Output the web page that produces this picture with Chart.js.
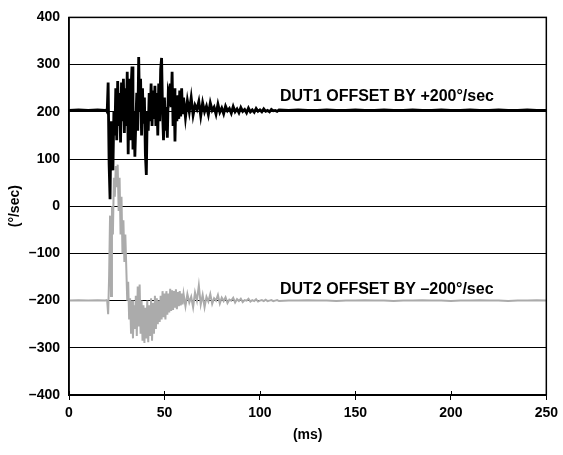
<!DOCTYPE html>
<html>
<head>
<meta charset="utf-8">
<script src="https://cdn.jsdelivr.net/npm/chart.js@4"></script>
<style>
  html, body { margin: 0; padding: 0; background: #ffffff; }
  canvas { display: block; }
</style>
</head>
<body>
<canvas id="c" width="563" height="455"></canvas>
<script>
// ---- data ----
const timeMs = [
  0, 5, 10, 15, 19, 19.5,
  20, 20.5, 21, 21.5, 22, 22.5, 23, 23.5, 24, 24.5,
  25, 25.5, 26, 26.5, 27, 27.5, 28, 28.5, 29, 29.5,
  30, 30.5, 31, 31.5, 32, 32.5, 33, 33.5, 34, 34.5,
  35, 35.5, 36, 36.5, 37, 37.5, 38, 38.5, 39, 39.5,
  40, 40.5, 41, 41.5, 42, 42.5, 43, 43.5, 44, 44.5,
  45, 45.5, 46, 46.5, 47, 47.5, 48, 48.5, 49, 49.5,
  50, 50.5, 51, 51.5, 52, 52.5, 53, 53.5, 54, 54.5,
  55, 55.5, 56, 56.5, 57, 57.5, 58, 58.5, 59, 59.5,
  60,
  61, 62, 63, 64, 65, 66, 67, 68, 69, 70,
  71, 72, 73, 74, 75, 76, 77, 78, 79, 80,
  81, 82, 83, 84, 85, 86, 87, 88, 89, 90,
  91, 92, 93, 94, 95, 96, 97, 98, 99, 100,
  101, 102, 103, 104, 105, 106, 107, 108, 109, 110,
  115, 120, 125, 130, 135, 140, 145, 150, 155, 160,
  165, 170, 175, 180, 185, 190, 195, 200, 205, 210,
  215, 220, 225, 230, 235, 240, 245, 250
];

const dut1 = [
  203, 204, 203, 204, 203, 204,
  200, 262, 90, 15, 180, 120, 76, 200, 150, 250,
  140, 265, 170, 240, 135, 262, 180, 270, 155, 250,
  170, 285, 110, 270, 140, 250, 296, 120, 200, 105,
  180, 240, 160, 316, 200, 270, 150, 250, 175, 230,
  110, 66, 200, 160, 240, 180, 260, 170, 245, 185,
  255, 170, 240, 150, 260, 180, 290, 314, 200, 140,
  230, 160, 210, 145, 240, 230, 260, 210, 285, 170,
  250, 137, 230, 180, 235, 185, 245, 190, 250, 195,
  230,
  188, 224, 200, 230, 193, 214, 205, 222, 191, 219,
  200, 212, 194, 219, 203, 210, 195, 216, 199, 208,
  196, 212, 202, 207, 197, 211, 200, 206, 198, 209,
  201, 205, 198, 208, 200, 204, 199, 207, 201, 204,
  200, 206, 201, 203, 200, 205, 202, 203, 201, 204,
  203, 204, 203, 203, 204, 203, 203, 204, 203, 203,
  204, 203, 203, 204, 203, 203, 204, 203, 203, 204,
  203, 203, 204, 203, 203, 204, 203, 203
];

const dut2 = [
  -200, -199, -200, -199, -200, -199,
  -200, -229, -150, -20, -190, 0, -60, 60, 20, 85,
  40, 88, -10, 60, -60, 20, -100, -30, -118, -60,
  -130, -200, -160, -240, -195, -270, -200, -280, -210, -260,
  -190, -275, -170, -255, -166, -270, -200, -285, -210, -290,
  -215, -280, -200, -288, -210, -275, -195, -285, -205, -270,
  -190, -260, -195, -250, -200, -245, -190, -240, -180, -235,
  -185, -240, -180, -230, -185, -225, -175, -222, -178, -220,
  -180, -215, -176, -218, -182, -212, -180, -210, -185, -208,
  -186,
  -212, -186, -204, -192, -214, -183, -200, -168, -208, -188,
  -214, -192, -202, -186, -207, -195, -200, -188, -206, -194,
  -201, -193, -205, -198, -200, -194, -204, -197, -201, -196,
  -203, -199, -200, -196, -202, -199, -201, -197, -202, -200,
  -199, -201, -198, -201, -200, -199, -201, -200, -199, -201,
  -200, -200, -199, -200, -200, -201, -200, -200, -199, -200,
  -200, -201, -200, -200, -199, -200, -200, -201, -200, -200,
  -199, -200, -200, -201, -200, -200, -199, -200
];

const xTicks = [0, 50, 100, 150, 200, 250];
const yTicks = [-400, -300, -200, -100, 0, 100, 200, 300, 400];
const annotations = [
  { text: 'DUT1 OFFSET BY +200\u00B0/sec', x: 110.5, y: 233 },
  { text: 'DUT2 OFFSET BY \u2013200\u00B0/sec', x: 110.5, y: -177 }
];

// ---- chart ----
const FONT = '"Liberation Sans", Arial, Helvetica, sans-serif';
const toPoints = (vals) => timeMs.map((t, i) => ({ x: t, y: vals[i] }));
const dash = (v) => String(v).replace('-', '\u2013');

const framePlugin = {
  id: 'frame',
  afterDatasetsDraw(chart) {
    const { ctx, chartArea: a, scales } = chart;
    ctx.save();
    ctx.strokeStyle = '#000';
    ctx.lineWidth = 1.5;
    ctx.strokeRect(a.left, a.top, a.right - a.left, a.bottom - a.top);
    ctx.lineWidth = 1;
    xTicks.forEach(v => {
      const px = Math.round(scales.x.getPixelForValue(v)) + 0.5;
      ctx.beginPath();
      ctx.moveTo(px, a.bottom - 4);
      ctx.lineTo(px, a.bottom);
      ctx.stroke();
    });
    ctx.fillStyle = '#000';
    ctx.font = 'bold 16px ' + FONT;
    ctx.textAlign = 'left';
    ctx.textBaseline = 'middle';
    annotations.forEach(an => {
      ctx.fillText(an.text, scales.x.getPixelForValue(an.x), scales.y.getPixelForValue(an.y));
    });
    ctx.restore();
  }
};

new Chart(document.getElementById('c'), {
  type: 'line',
  data: {
    datasets: [
      {
        label: 'DUT1',
        data: toPoints(dut1),
        borderColor: '#000000',
        borderWidth: 2.8,
        pointRadius: 0,
        tension: 0,
        fill: false
      },
      {
        label: 'DUT2',
        data: toPoints(dut2),
        borderColor: '#ababab',
        borderWidth: 2,
        pointRadius: 0,
        tension: 0,
        fill: false
      }
    ]
  },
  options: {
    responsive: false,
    animation: false,
    devicePixelRatio: 1,
    layout: { padding: { top: 12, right: 14, left: 0, bottom: 0 } },
    plugins: { legend: { display: false }, tooltip: { enabled: false } },
    scales: {
      x: {
        type: 'linear',
        min: 0,
        max: 250,
        afterBuildTicks: (s) => { s.ticks = xTicks.map(v => ({ value: v })); },
        afterFit: (s) => { s.height = 60; },
        grid: { drawOnChartArea: false, drawTicks: true, tickLength: 5, color: '#000', lineWidth: 1 },
        border: { display: true, color: '#000', width: 1.5 },
        ticks: { color: '#000', font: { family: FONT, size: 14, weight: 'bold' }, padding: 5, maxRotation: 0 },
        title: { display: true, text: '(ms)', color: '#000', font: { family: FONT, size: 14, weight: 'bold' }, padding: { top: 4, bottom: 11 } }
      },
      y: {
        type: 'linear',
        min: -400,
        max: 400,
        afterBuildTicks: (s) => { s.ticks = yTicks.map(v => ({ value: v })); },
        afterFit: (s) => { s.width = 69; },
        grid: { drawOnChartArea: true, drawTicks: false, color: '#000', lineWidth: 1 },
        border: { display: true, color: '#000', width: 1.5 },
        ticks: { color: '#000', font: { family: FONT, size: 14, weight: 'bold' }, padding: 9, callback: (v) => dash(v) },
        title: { display: true, text: '(\u00B0/sec)', color: '#000', font: { family: FONT, size: 14, weight: 'bold' }, padding: { top: 7, bottom: 4 } }
      }
    }
  },
  plugins: [framePlugin]
});
</script>
</body>
</html>
